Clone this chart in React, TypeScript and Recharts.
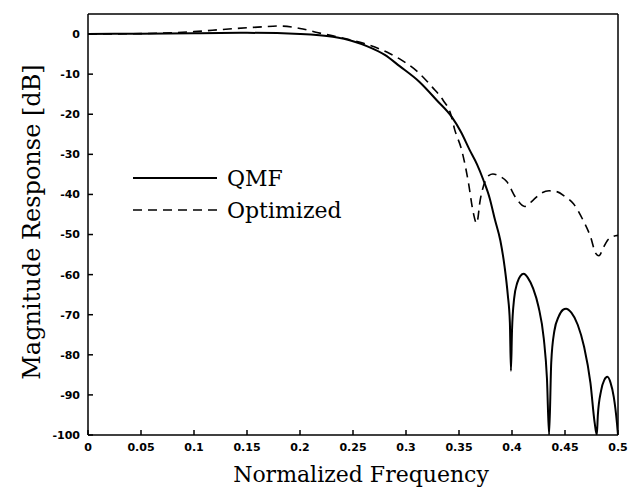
import { LineChart, Line, XAxis, YAxis, Legend, Label } from 'recharts'

// Normalized frequency / magnitude (dB)
const qmfFreq = [
  0, 0.05, 0.1, 0.15, 0.2, 0.231, 0.25, 0.263, 0.28, 0.294, 0.313, 0.329, 0.343, 0.352, 0.36, 0.367,
  0.373, 0.379, 0.384, 0.389, 0.393, 0.396, 0.398, 0.399, 0.4, 0.402, 0.405, 0.408, 0.411, 0.415,
  0.42, 0.425, 0.43, 0.433, 0.435, 0.437, 0.44, 0.444, 0.448, 0.451, 0.456, 0.462, 0.468, 0.474,
  0.478, 0.48, 0.481, 0.484, 0.487, 0.49, 0.493, 0.496, 0.499, 0.5,
]
const qmfDb = [
  0, 0.1, 0.2, 0.3, 0, -0.7, -1.8, -3, -5.2, -8, -12, -16.5, -20.6, -24.5, -28.9, -32.5,
  -36.4, -41, -46.4, -51.5, -58, -65, -72, -84, -74, -66, -62, -60.3, -59.8, -60.8,
  -63.5, -68, -76, -86, -100, -82, -74, -70.5, -68.8, -68.5, -69.5, -72.5, -78, -87,
  -97, -100, -95, -89, -86.3, -85.5, -87, -90.5, -97, -100,
]

const optFreq = [
  0, 0.05, 0.1, 0.13, 0.165, 0.181, 0.2, 0.216, 0.23, 0.247, 0.26, 0.275, 0.285, 0.294, 0.31, 0.325, 0.335,
  0.342, 0.346, 0.3525, 0.359, 0.363, 0.3667, 0.37, 0.3745, 0.378, 0.382, 0.388, 0.395, 0.404, 0.412,
  0.42, 0.427, 0.435, 0.442, 0.45, 0.458, 0.467, 0.474, 0.479, 0.482, 0.486, 0.49, 0.495, 0.5,
]
const optDb = [
  0, 0.1, 0.6, 1.2, 1.8, 2, 1.4, 0.4, -0.4, -1.4, -2.3, -3.7, -4.9, -6.2, -9.2, -13.3, -16.5,
  -19.8, -23.9, -28.9, -37.2, -43.9, -47.2, -41.4, -36.8, -35.3, -34.9, -35.4, -36.8, -41, -43,
  -41.4, -39.8, -39.1, -39.3, -40.5, -42.3, -46.4, -50.5, -54.7, -55.3, -53.4, -51.5, -50.5, -50.2,
]

const freqTicks = [0, 0.05, 0.1, 0.15, 0.2, 0.25, 0.3, 0.35, 0.4, 0.45, 0.5]
const dbTicks = [-100, -90, -80, -70, -60, -50, -40, -30, -20, -10, 0]
const seriesNames = ['QMF', 'Optimized']

const qmfData = qmfFreq.map((f, i) => ({ f, db: qmfDb[i] }))
const optData = optFreq.map((f, i) => ({ f, db: optDb[i] }))

const serif = 'DejaVu Serif'
const tickStyle = { fill: '#000', fontSize: 11, fontWeight: 700, fontFamily: 'DejaVu Sans' }
const axisLine = { stroke: '#000', strokeWidth: 1.5 }

const lineStyles: Record<string, { width: number; dash?: string }> = {
  QMF: { width: 2 },
  Optimized: { width: 1.6, dash: '9 6' },
}

function LegendBox() {
  return (
    <div style={{ fontFamily: serif, fontSize: 22, color: '#000' }}>
      {seriesNames.map((name) => {
        const s = lineStyles[name]
        return (
          <div key={name} style={{ display: 'flex', alignItems: 'center', height: 32 }}>
            <svg width={84} height={10}>
              <line x1={0} y1={5} x2={84} y2={5} stroke="#000" strokeWidth={s.width} strokeDasharray={s.dash} />
            </svg>
            <span style={{ marginLeft: 10 }}>{name}</span>
          </div>
        )
      })}
    </div>
  )
}

export default function App() {
  return (
    <div style={{ position: 'absolute', left: 0, top: 0, background: '#fff' }}>
      <LineChart width={636} height={487} margin={{ top: 13, right: 17, bottom: 0, left: 0 }}>
        <XAxis
          xAxisId="b"
          dataKey="f"
          type="number"
          domain={[0, 0.5]}
          ticks={freqTicks}
          height={52}
          axisLine={axisLine}
          tickLine={axisLine}
          tickSize={-5}
          tickMargin={13}
          tick={tickStyle}
          allowDataOverflow
        >
          <Label
            content={() => (
              <text x={361} y={482} textAnchor="middle" fontFamily={serif} fontSize={22} fill="#000">
                Normalized Frequency
              </text>
            )}
          />
        </XAxis>
        <XAxis
          xAxisId="t"
          orientation="top"
          dataKey="f"
          type="number"
          domain={[0, 0.5]}
          ticks={freqTicks}
          height={1}
          axisLine={axisLine}
          tickLine={axisLine}
          tickSize={-5}
          tick={false}
        />
        <YAxis
          yAxisId="l"
          type="number"
          domain={[-100, 5]}
          ticks={dbTicks}
          width={88}
          axisLine={axisLine}
          tickLine={axisLine}
          tickSize={-5}
          tickMargin={13}
          tick={tickStyle}
          allowDataOverflow
        >
          <Label
            content={() => (
              <text
                x={40}
                y={222}
                transform="rotate(-90 40 222)"
                textAnchor="middle"
                fontFamily={serif}
                fontSize={24}
                fill="#000"
              >
                Magnitude Response [dB]
              </text>
            )}
          />
        </YAxis>
        <YAxis
          yAxisId="r"
          orientation="right"
          type="number"
          domain={[-100, 5]}
          ticks={dbTicks}
          width={1}
          axisLine={axisLine}
          tickLine={axisLine}
          tickSize={-5}
          tick={false}
        />
        <Legend
          layout="vertical"
          align="center"
          verticalAlign="middle"
          wrapperStyle={{ left: 133, top: 162, width: 'auto' }}
          content={LegendBox}
        />
        <Line
          xAxisId="b"
          yAxisId="l"
          name="QMF"
          data={qmfData}
          dataKey="db"
          type="monotone"
          stroke="#000"
          strokeWidth={lineStyles.QMF.width}
          dot={false}
          activeDot={false}
          isAnimationActive={false}
        />
        <Line
          xAxisId="b"
          yAxisId="l"
          name="Optimized"
          data={optData}
          dataKey="db"
          type="monotone"
          stroke="#000"
          strokeWidth={lineStyles.Optimized.width}
          strokeDasharray={lineStyles.Optimized.dash}
          dot={false}
          activeDot={false}
          isAnimationActive={false}
        />
      </LineChart>
    </div>
  )
}
